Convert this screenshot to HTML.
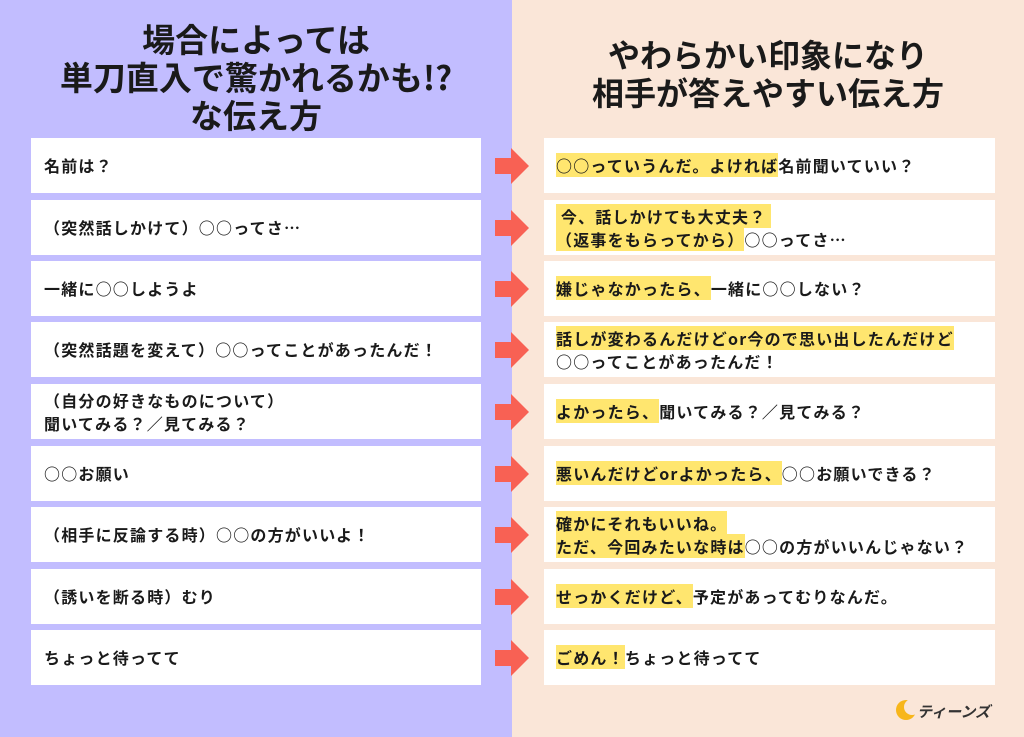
<!DOCTYPE html>
<html><head><meta charset="utf-8"><style>
*{margin:0;padding:0;box-sizing:border-box}
body{width:1024px;height:737px;position:relative;overflow:hidden;font-family:"Noto Sans CJK JP","Liberation Sans",sans-serif;font-weight:bold;color:#1a1a1a}
.l{position:absolute;left:0;top:0;width:512px;height:737px;background:#c2bdff}
.r{position:absolute;left:512px;top:0;width:512px;height:737px;background:#fae6d8}
.t{position:absolute;top:19px;width:512px;text-align:center;font-size:33px;line-height:38px;font-weight:bold}
.b{position:absolute;background:#fff;height:55px;display:flex;flex-direction:column;justify-content:center;font-size:16px;letter-spacing:1.2px;line-height:23px;padding-left:13px}
.bl{left:31px;width:450px}
.br{left:544px;width:451px;padding-left:12px}
.h{background:#ffe66f}
</style></head><body>
<div class="l"></div><div class="r"></div>
<div class="t" style="left:0">場合によっては<br>単刀直入で驚かれるかも!?<br>な伝え方</div>
<div class="t" style="left:512px;top:35px;font-size:32px">やわらかい印象になり<br>相手が答えやすい伝え方</div>

<div class="b bl" style="top:138px">名前は？</div>
<div class="b bl" style="top:200px">（突然話しかけて）○○ってさ…</div>
<div class="b bl" style="top:261px">一緒に○○しようよ</div>
<div class="b bl" style="top:322px">（突然話題を変えて）○○ってことがあったんだ！</div>
<div class="b bl" style="top:384px"><div>（自分の好きなものについて）</div><div>聞いてみる？／見てみる？</div></div>
<div class="b bl" style="top:446px">○○お願い</div>
<div class="b bl" style="top:507px">（相手に反論する時）○○の方がいいよ！</div>
<div class="b bl" style="top:569px">（誘いを断る時）むり</div>
<div class="b bl" style="top:630px">ちょっと待ってて</div>

<div class="b br" style="top:138px"><div><span class="h">○○っていうんだ。よければ</span>名前聞いていい？</div></div>
<div class="b br" style="top:200px"><div><span class="h">&nbsp;今、話しかけても大丈夫？&nbsp;</span></div><div><span class="h">（返事をもらってから）</span>○○ってさ…</div></div>
<div class="b br" style="top:261px"><div><span class="h">嫌じゃなかったら、</span>一緒に○○しない？</div></div>
<div class="b br" style="top:322px"><div><span class="h">話しが変わるんだけどor今ので思い出したんだけど</span></div><div>○○ってことがあったんだ！</div></div>
<div class="b br" style="top:384px"><div><span class="h">よかったら、</span>聞いてみる？／見てみる？</div></div>
<div class="b br" style="top:446px"><div><span class="h">悪いんだけどorよかったら、</span>○○お願いできる？</div></div>
<div class="b br" style="top:507px"><div><span class="h">確かにそれもいいね。</span></div><div><span class="h">ただ、今回みたいな時は</span>○○の方がいいんじゃない？</div></div>
<div class="b br" style="top:569px"><div><span class="h">せっかくだけど、</span>予定があってむりなんだ。</div></div>
<div class="b br" style="top:630px"><div><span class="h">ごめん！</span>ちょっと待ってて</div></div>

<svg width="1024" height="737" style="position:absolute;left:0;top:0">
<g fill="#f86154">
<polygon points="495,158 511,158 511,148 529,166 511,184 511,174 495,174"/>
<polygon points="495,220 511,220 511,210 529,228 511,246 511,236 495,236"/>
<polygon points="495,281 511,281 511,271 529,289 511,307 511,297 495,297"/>
<polygon points="495,342 511,342 511,332 529,350 511,368 511,358 495,358"/>
<polygon points="495,404 511,404 511,394 529,412 511,430 511,420 495,420"/>
<polygon points="495,466 511,466 511,456 529,474 511,492 511,482 495,482"/>
<polygon points="495,527 511,527 511,517 529,535 511,553 511,543 495,543"/>
<polygon points="495,589 511,589 511,579 529,597 511,615 511,605 495,605"/>
<polygon points="495,650 511,650 511,640 529,658 511,676 511,666 495,666"/>
</g>
<circle cx="906" cy="710" r="10" fill="#f7b61b"/>
<circle cx="912" cy="707" r="8" fill="#fae6d8"/>
<text x="917" y="717" font-size="15" font-weight="bold" fill="#333" font-family="Noto Sans CJK JP,sans-serif" font-style="italic">ティーンズ</text>
</svg>
</body></html>
